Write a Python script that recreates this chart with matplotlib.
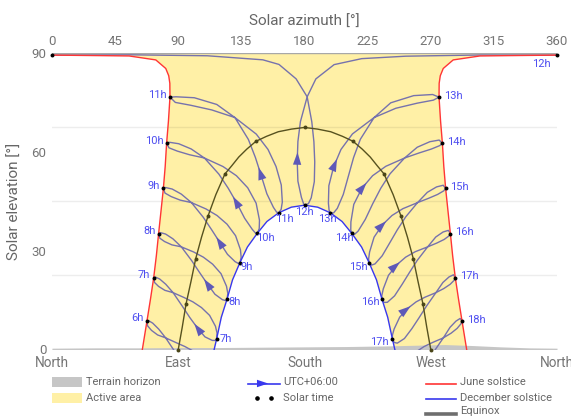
import matplotlib
matplotlib.use("Agg")
import matplotlib.pyplot as plt
from matplotlib.patches import Polygon, Rectangle, FancyArrowPatch
from matplotlib.lines import Line2D

plt.rcParams["font.family"] = ["Roboto", "DejaVu Sans"]

# ---------------------------
# Values (azimuth, elevation) in degrees
# ---------------------------
az_ticks = [0, 45, 90, 135, 180, 225, 270, 315, 360]
compass_ticks = [0, 90, 180, 270, 360]
compass_labels = ["North", "East", "South", "West", "North"]
el_ticks = [0, 30, 60, 90]
grid_levels = [22.5, 45, 67.5]

june_am = [(64.4, 0), (67.7, 8.65), (70.2, 15.3), (72.5, 21.8), (74.4, 28.5), (76.0, 35.2),
           (77.7, 42.0), (79.4, 48.9), (80.7, 55.6), (81.7, 62.6), (83.0, 69.3), (84.1, 76.6),
           (84.0, 80.8), (83.2, 83.1), (81.1, 85.3), (74.0, 87.9), (55.0, 89.1), (35.5, 89.2),
           (0.0, 89.36)]
june_pm = [(360.0, 89.36), (324.5, 89.2), (305.0, 89.1), (286.0, 87.9), (278.9, 85.3),
           (276.8, 83.1), (276.0, 80.8), (275.9, 76.6), (277.0, 69.3), (278.3, 62.6),
           (279.3, 55.6), (280.6, 48.9), (282.3, 42.0), (284.0, 35.2), (285.6, 28.5),
           (287.5, 21.8), (289.8, 15.3), (292.3, 8.65), (295.6, 0)]
december = [(115.6, 0), (117.4, 3.3), (120.7, 9.8), (124.8, 15.3), (128.7, 21.15), (134.0, 26.4),
            (139.3, 31.1), (146.4, 35.3), (153.2, 38.85), (161.6, 41.5), (170.6, 43.2),
            (180.0, 43.8), (189.4, 43.2), (198.4, 41.5), (206.8, 38.85), (213.6, 35.3),
            (220.7, 31.1), (226.0, 26.4), (231.3, 21.15), (235.2, 15.3), (239.3, 9.8),
            (242.6, 3.3), (244.4, 0)]
equinox = [(90, 0), (92.9, 6.9), (95.5, 13.7), (99.1, 20.7), (102.4, 27.5), (106.6, 34.1),
           (111.2, 40.5), (116.8, 47.0), (123.3, 53.3), (128.2, 55.8), (133.1, 58.4),
           (138.8, 60.8), (145.4, 63.2), (152.9, 64.7), (161.3, 66.1), (170.7, 66.9),
           (180, 67.4), (189.3, 66.9), (198.7, 66.1), (207.1, 64.7), (214.6, 63.2),
           (221.2, 60.8), (226.9, 58.4), (231.8, 55.8), (236.7, 53.3), (243.2, 47.0),
           (248.8, 40.5), (253.4, 34.1), (257.6, 27.5), (260.9, 20.7), (264.5, 13.7),
           (267.1, 6.9), (270, 0)]

terrain_az = [0, 30, 60, 90, 120, 150, 180, 210, 240, 260, 280, 300, 320, 340, 360]
terrain_el = [0.4, 0.5, 0.5, 0.6, 0.6, 0.7, 0.8, 0.9, 1.1, 1.3, 1.5, 1.2, 0.8, 0.5, 0.4]

# solar-time dots on the equinox path, 6h .. 18h
solar_az = [90, 95.5, 102.4, 111.2, 123.3, 145.4, 180, 214.6, 236.7, 248.8, 257.6, 264.5, 270]
solar_el = [0, 13.7, 27.5, 40.5, 53.3, 63.2, 67.4, 63.2, 53.3, 40.5, 27.5, 13.7, 0]

# clock-hour markers on the June solstice path
june_hours = ["6h", "7h", "8h", "9h", "10h", "11h", "12h", "13h", "14h", "15h", "16h", "17h", "18h"]
june_dot_az = [67.7, 72.5, 76.0, 79.4, 81.7, 84.1, 360.0, 275.9, 278.3, 280.6, 284.0, 287.5, 292.3]
june_dot_el = [8.65, 21.8, 35.2, 48.9, 62.6, 76.6, 89.36, 76.6, 62.6, 48.9, 35.2, 21.8, 8.65]

# clock-hour markers on the December solstice path
dec_hours = ["7h", "8h", "9h", "10h", "11h", "12h", "13h", "14h", "15h", "16h", "17h"]
dec_dot_az = [117.4, 124.8, 134.0, 146.4, 161.6, 180.0, 198.4, 213.6, 226.0, 235.2, 242.6]
dec_dot_el = [3.3, 15.3, 26.4, 35.3, 41.5, 43.8, 41.5, 35.3, 26.4, 15.3, 3.3]

# analemmas (UTC+06:00), traced Dec -> Jun -> Dec
loop_06 = [(111.8, -8.9), (110.97, -9.55), (108.84, -9.78), (103.67, -9.17), (98.12, -6.77),
           (92.76, -3.89), (87.54, -0.63), (81.03, 3.53), (76.05, 6.20), (71.79, 8.00),
           (68.78, 8.77), (67.7, 8.65), (68.16, 7.18), (70.92, 5.81), (75.32, 4.41),
           (81.03, 3.53), (88.68, 2.04), (94.78, 0.89), (100.73, -0.50), (106.42, -2.40),
           (110.62, -5.27), (111.88, -7.19), (111.8, -8.9)]
loop_07 = [(117.4, 3.3), (116.47, 2.75), (114.26, 2.76), (109.03, 3.84), (103.55, 6.61),
           (98.21, 9.72), (92.98, 13.10), (86.32, 17.26), (81.14, 19.79), (76.72, 21.41),
           (73.60, 22.01), (72.5, 21.8), (73.07, 20.36), (75.95, 19.16), (80.46, 17.96),
           (86.32, 17.26), (94.16, 15.77), (100.43, 14.46), (106.56, 12.73), (112.37, 10.35),
           (116.53, 7.05), (117.66, 4.98), (117.4, 3.3)]
loop_08 = [(124.8, 15.3), (123.78, 14.86), (121.47, 15.12), (116.14, 16.78), (110.59, 20.02),
           (105.09, 23.44), (99.56, 26.98), (92.19, 31.16), (86.22, 33.59), (80.99, 35.04),
           (77.28, 35.48), (76.0, 35.2), (76.82, 33.80), (80.24, 32.77), (85.48, 31.76),
           (92.19, 31.16), (101.03, 29.59), (107.93, 28.02), (114.50, 25.91), (120.49, 23.02),
           (124.39, 19.21), (125.33, 17.02), (124.8, 15.3)]
loop_09 = [(134.0, 26.4), (132.84, 26.12), (130.50, 26.67), (125.09, 28.89), (119.53, 32.56),
           (113.85, 36.32), (107.85, 40.13), (99.40, 44.59), (92.18, 47.17), (85.66, 48.71),
           (80.96, 49.17), (79.4, 48.9), (80.56, 47.48), (84.89, 46.43), (91.33, 45.35),
           (99.40, 44.59), (109.78, 42.66), (117.63, 40.68), (124.78, 38.04), (130.87, 34.54),
           (134.34, 30.28), (134.84, 27.97), (134.0, 26.4)]
loop_10 = [(146.4, 35.3), (145.14, 35.30), (142.79, 36.45), (137.31, 39.85), (131.69, 44.47),
           (125.65, 48.93), (118.93, 53.25), (108.68, 58.12), (99.24, 60.87), (90.34, 62.46),
           (83.83, 62.89), (81.7, 62.6), (83.42, 61.21), (89.35, 60.22), (98.01, 59.12),
           (108.68, 58.12), (121.93, 55.53), (131.47, 52.75), (139.51, 49.10), (145.52, 44.41),
           (147.91, 39.24), (147.72, 36.70), (146.4, 35.3)]
loop_11 = [(161.6, 41.5), (160.13, 41.70), (157.84, 43.15), (153.17, 47.27), (149.15, 52.78),
           (145.0, 58.28), (139.99, 63.76), (130.4, 70.4), (117.45, 74.38), (101.45, 76.42),
           (88.45, 76.71), (84.1, 76.6), (87.94, 75.0), (98.82, 74.14), (113.87, 72.72),
           (130.4, 70.4), (145.62, 65.38), (154.0, 60.72), (159.71, 55.54), (163.44, 49.94),
           (164.19, 44.76), (163.35, 42.53), (161.6, 41.5)]
loop_12_west = [(180.0, 43.8), (179.3, 44.3), (177.8, 46.17), (175.3, 51.09), (174.8, 57.08),
                (175.3, 63.14), (177.1, 69.18), (181.9, 76.7), (188.1, 82.14), (201.1, 86.47),
                (220.8, 88.29), (252.1, 89.03), (305.7, 89.4), (360.0, 89.36)]
loop_12_east = [(0.0, 89.36), (56.6, 89.45), (110.8, 89.16), (150.3, 87.93), (161.8, 86.53),
                (174.0, 82.16), (181.9, 76.7), (185.2, 69.13), (186.7, 63.06), (187.3, 56.96),
                (187.0, 50.95), (184.8, 46.05), (182.8, 44.28), (180.0, 43.8)]
loop_13 = [(198.4, 41.5), (197.53, 42.30), (197.04, 44.45), (197.37, 49.73), (200.75, 55.42),
           (206.0, 60.72), (214.19, 65.44), (229.6, 70.4), (245.05, 73.22), (260.45, 74.78),
           (271.85, 75.69), (275.9, 76.6), (271.34, 77.4), (257.82, 77.06), (241.47, 74.88),
           (229.6, 70.4), (219.82, 63.82), (215.0, 58.28), (211.31, 52.66), (207.64, 47.06),
           (203.39, 42.84), (200.75, 41.47), (198.4, 41.5)]
loop_14 = [(213.6, 35.3), (212.98, 36.32), (213.07, 38.71), (215.13, 44.05), (220.83, 48.89),
           (228.53, 52.75), (237.97, 55.61), (251.32, 58.12), (261.62, 59.65), (270.38, 60.84),
           (276.41, 61.89), (278.3, 62.6), (276.0, 63.57), (269.39, 63.08), (260.39, 61.40),
           (251.32, 58.12), (240.97, 53.33), (234.35, 48.93), (228.65, 44.26), (223.34, 39.49),
           (218.19, 35.92), (215.56, 34.92), (213.6, 35.3)]
loop_15 = [(226.0, 26.4), (225.70, 27.46), (226.40, 29.59), (229.59, 34.09), (235.45, 37.80),
           (242.37, 40.68), (250.15, 42.75), (260.60, 44.59), (268.42, 45.89), (274.90, 47.07),
           (279.28, 48.17), (280.6, 48.9), (278.88, 49.86), (274.13, 49.35), (267.57, 47.71),
           (260.60, 44.59), (252.08, 40.22), (246.15, 36.32), (240.70, 32.32), (235.37, 28.44),
           (230.24, 25.98), (227.70, 25.61), (226.0, 26.4)]
loop_16 = [(235.2, 15.3), (235.12, 16.40), (236.17, 18.42), (239.86, 22.52), (245.67, 25.66),
           (252.07, 28.02), (258.92, 29.68), (267.81, 31.16), (274.30, 32.31), (279.55, 33.40),
           (283.0, 34.48), (284.0, 35.2), (282.54, 36.16), (278.80, 35.67), (273.56, 34.14),
           (267.81, 31.16), (260.39, 27.07), (254.91, 23.44), (249.58, 19.77), (244.21, 16.28),
           (239.09, 14.33), (236.64, 14.28), (235.2, 15.3)]
loop_17 = [(242.6, 3.3), (242.67, 4.37), (243.90, 6.22), (247.89, 9.84), (253.57, 12.47),
           (259.57, 14.46), (265.80, 15.86), (273.68, 17.26), (279.34, 18.51), (283.84, 19.79),
           (286.72, 21.03), (287.5, 21.8), (286.19, 22.68), (283.07, 22.04), (278.66, 20.34),
           (273.68, 17.26), (266.98, 13.19), (261.79, 9.72), (256.58, 6.35), (251.23, 3.33),
           (246.17, 1.93), (243.86, 2.14), (242.6, 3.3)]
loop_18 = [(248.2, -8.9), (248.37, -7.83), (249.72, -6.14), (253.79, -2.93), (259.38, -0.77),
           (265.22, 0.89), (271.28, 2.13), (278.97, 3.53), (284.47, 4.94), (288.83, 6.42),
           (291.58, 7.83), (292.3, 8.65), (290.96, 9.42), (287.96, 8.61), (283.74, 6.73),
           (278.97, 3.53), (272.42, -0.54), (267.24, -3.89), (261.99, -7.04), (256.54, -9.70),
           (251.5, -10.65), (249.28, -10.19), (248.2, -8.9)]

loops = [loop_06, loop_07, loop_08, loop_09, loop_10, loop_11, loop_12_west,
         loop_13, loop_14, loop_15, loop_16, loop_17, loop_18]

# ---------------------------
# Styles
# ---------------------------
YELLOW = "#fff0a6"
TERRAIN = "#c6c6c6"
LOOP = "#7672ad"
ARROW = "#5e59b8"
RED = "#ff3535"
BLUE = "#3838ee"
EQUI = "#57521f"
LABEL = "#4f4ff0"
GREY = "#757575"
TITLE = "#666666"

fig = plt.figure(figsize=(5.71, 4.16), dpi=100)
ax = fig.add_axes([52 / 571, 1 - 349.5 / 416, 505 / 571, 296.5 / 416])
ax.set_xlim(0, 360)
ax.set_ylim(0, 90)
for s in ax.spines.values():
    s.set_visible(False)


def xs(pts):
    return [p[0] for p in pts]


def ys(pts):
    return [p[1] for p in pts]


# active area between the solstice paths
active = june_am + [(0, 90), (360, 90)] + june_pm + december[::-1]
ax.add_patch(Polygon(active, closed=True, facecolor=YELLOW, edgecolor="none", zorder=1))

# terrain horizon
ax.fill_between(terrain_az, 0, terrain_el, color=TERRAIN, lw=0, zorder=2)

for g in grid_levels:
    ax.axhline(g, color="black", alpha=0.07, lw=1, zorder=1.5)
ax.axhline(90, color="#a8a8a8", lw=1, zorder=1.6)
ax.axhline(0, color="#d4d4d4", lw=1, zorder=1.6)

# analemmas
for lp in loops + [loop_12_east]:
    ax.plot(xs(lp), ys(lp), color=LOOP, lw=1.0, zorder=3, solid_joinstyle="round")

# direction arrows (late February on each loop)
for lp in loops:
    p, q = lp[4], lp[5]
    if p[1] < 1:
        continue
    tip = (p[0] + 0.6 * (q[0] - p[0]), p[1] + 0.6 * (q[1] - p[1]))
    ax.add_patch(FancyArrowPatch(p, tip, arrowstyle="-|>,head_length=0.9,head_width=0.3",
                                 mutation_scale=10, color=ARROW, lw=0, zorder=4))

# sun paths
ax.plot(xs(june_am), ys(june_am), color=RED, lw=1.0, zorder=4)
ax.plot(xs(june_pm), ys(june_pm), color=RED, lw=1.0, zorder=4)
ax.plot(xs(december), ys(december), color=BLUE, lw=1.0, zorder=4)
ax.plot(xs(equinox), ys(equinox), color=EQUI, lw=1.0, zorder=4)

# markers
ax.scatter(solar_az, solar_el, s=8, color="#4a4618", zorder=5, clip_on=False, lw=0)
ax.scatter(june_dot_az + [loop_12_east[0][0]], june_dot_el + [loop_12_east[0][1]],
           s=8, color="black", zorder=5, clip_on=False, lw=0)
ax.scatter(dec_dot_az, dec_dot_el, s=8, color="black", zorder=5, lw=0)

# hour labels
for name, a, e in zip(june_hours, june_dot_az, june_dot_el):
    if name == "12h":
        off, ha = (-4.3, -6.3), "right"
    elif a < 180:
        off, ha = (-2.4, 1.9), "right"
    else:
        off, ha = (3.4, 1.0), "left"
    ax.annotate(name, (a, e), xytext=off, textcoords="offset points", ha=ha, va="center",
                fontsize=8, color=LABEL, zorder=6, annotation_clip=False)

dec_offsets = {"7h": (1.9, 0, "left"), "8h": (0.9, -1.9, "left"), "9h": (0.7, -3.1, "left"),
               "10h": (-0.9, -3.2, "left"), "11h": (-2.7, -4.8, "left"),
               "12h": (0, -5, "center"), "13h": (4.3, -4.8, "right"),
               "14h": (1.2, -3.2, "right"), "15h": (-0.7, -3.2, "right"),
               "16h": (-1.7, -1.9, "right"), "17h": (-2.9, -2.2, "right")}
for name, a, e in zip(dec_hours, dec_dot_az, dec_dot_el):
    dx, dy, ha = dec_offsets[name]
    ax.annotate(name, (a, e), xytext=(dx, dy), textcoords="offset points", ha=ha, va="center",
                fontsize=8, color=LABEL, zorder=6)

# axes labels / ticks
ax.set_xticks(az_ticks)
ax.set_xticklabels([str(t) for t in az_ticks])
ax.xaxis.tick_top()
ax.tick_params(axis="x", length=0, pad=3.5, labelsize=9.5, labelcolor=GREY)
ax.set_xlabel("Solar azimuth [°]", fontsize=11, color=TITLE, labelpad=7)
ax.xaxis.set_label_position("top")

ax.set_yticks(el_ticks)
ax.tick_params(axis="y", length=0, pad=4, labelsize=9.5, labelcolor=GREY)
ax.set_ylabel("Solar elevation [°]", fontsize=11, color=TITLE, labelpad=7)

sec = ax.secondary_xaxis("bottom")
sec.set_xticks(compass_ticks, compass_labels)
sec.tick_params(length=0, pad=5, labelsize=9.8, labelcolor=GREY)
sec.spines["bottom"].set_visible(False)

# ---------------------------
# Legend (drawn in figure pixels)
# ---------------------------
W, H = 571.0, 416.0


def fx(x):
    return x / W


def fy(y):
    return 1 - y / H


leg_text = dict(fontsize=8, color=TITLE, va="center", ha="left")
fig.patches.append(Rectangle((fx(52), fy(387)), 30 / W, 10 / H, facecolor=TERRAIN,
                             edgecolor="none", transform=fig.transFigure))
fig.patches.append(Rectangle((fx(52), fy(403)), 30 / W, 10 / H, facecolor=YELLOW,
                             edgecolor="none", transform=fig.transFigure))
fig.text(fx(86), fy(382), "Terrain horizon", **leg_text)
fig.text(fx(86), fy(398), "Active area", **leg_text)

fig.lines.append(Line2D([fx(248), fx(280)], [fy(383.5), fy(383.5)], color=BLUE, lw=1.2,
                        transform=fig.transFigure))
fig.patches.append(FancyArrowPatch((fx(258), fy(383.5)), (fx(271), fy(383.5)),
                                   arrowstyle="-|>,head_length=0.9,head_width=0.3",
                                   mutation_scale=9, color=BLUE, lw=0,
                                   transform=fig.transFigure))
fig.text(fx(283), fy(382), "UTC+06:00", **leg_text)
fig.lines.append(Line2D([fx(257), fx(270.5)], [fy(398), fy(398)], ls="none", marker="o",
                        markersize=2.3, color="black", transform=fig.transFigure))
fig.text(fx(283), fy(398), "Solar time", **leg_text)

fig.lines.append(Line2D([fx(425.5), fx(456)], [fy(383.5), fy(383.5)], color=RED, lw=1.2,
                        transform=fig.transFigure))
fig.text(fx(460), fy(382), "June solstice", **leg_text)
fig.lines.append(Line2D([fx(425.5), fx(456)], [fy(398.5), fy(398.5)], color=BLUE, lw=1.2,
                        transform=fig.transFigure))
fig.text(fx(460), fy(398), "December solstice", **leg_text)
fig.lines.append(Line2D([fx(425.5), fx(456)], [fy(413.5), fy(413.5)], color="#6e6e6e", lw=2.6,
                        transform=fig.transFigure))
fig.text(fx(460), fy(411), "Equinox", **leg_text)

fig.savefig("out.png", dpi=100)
